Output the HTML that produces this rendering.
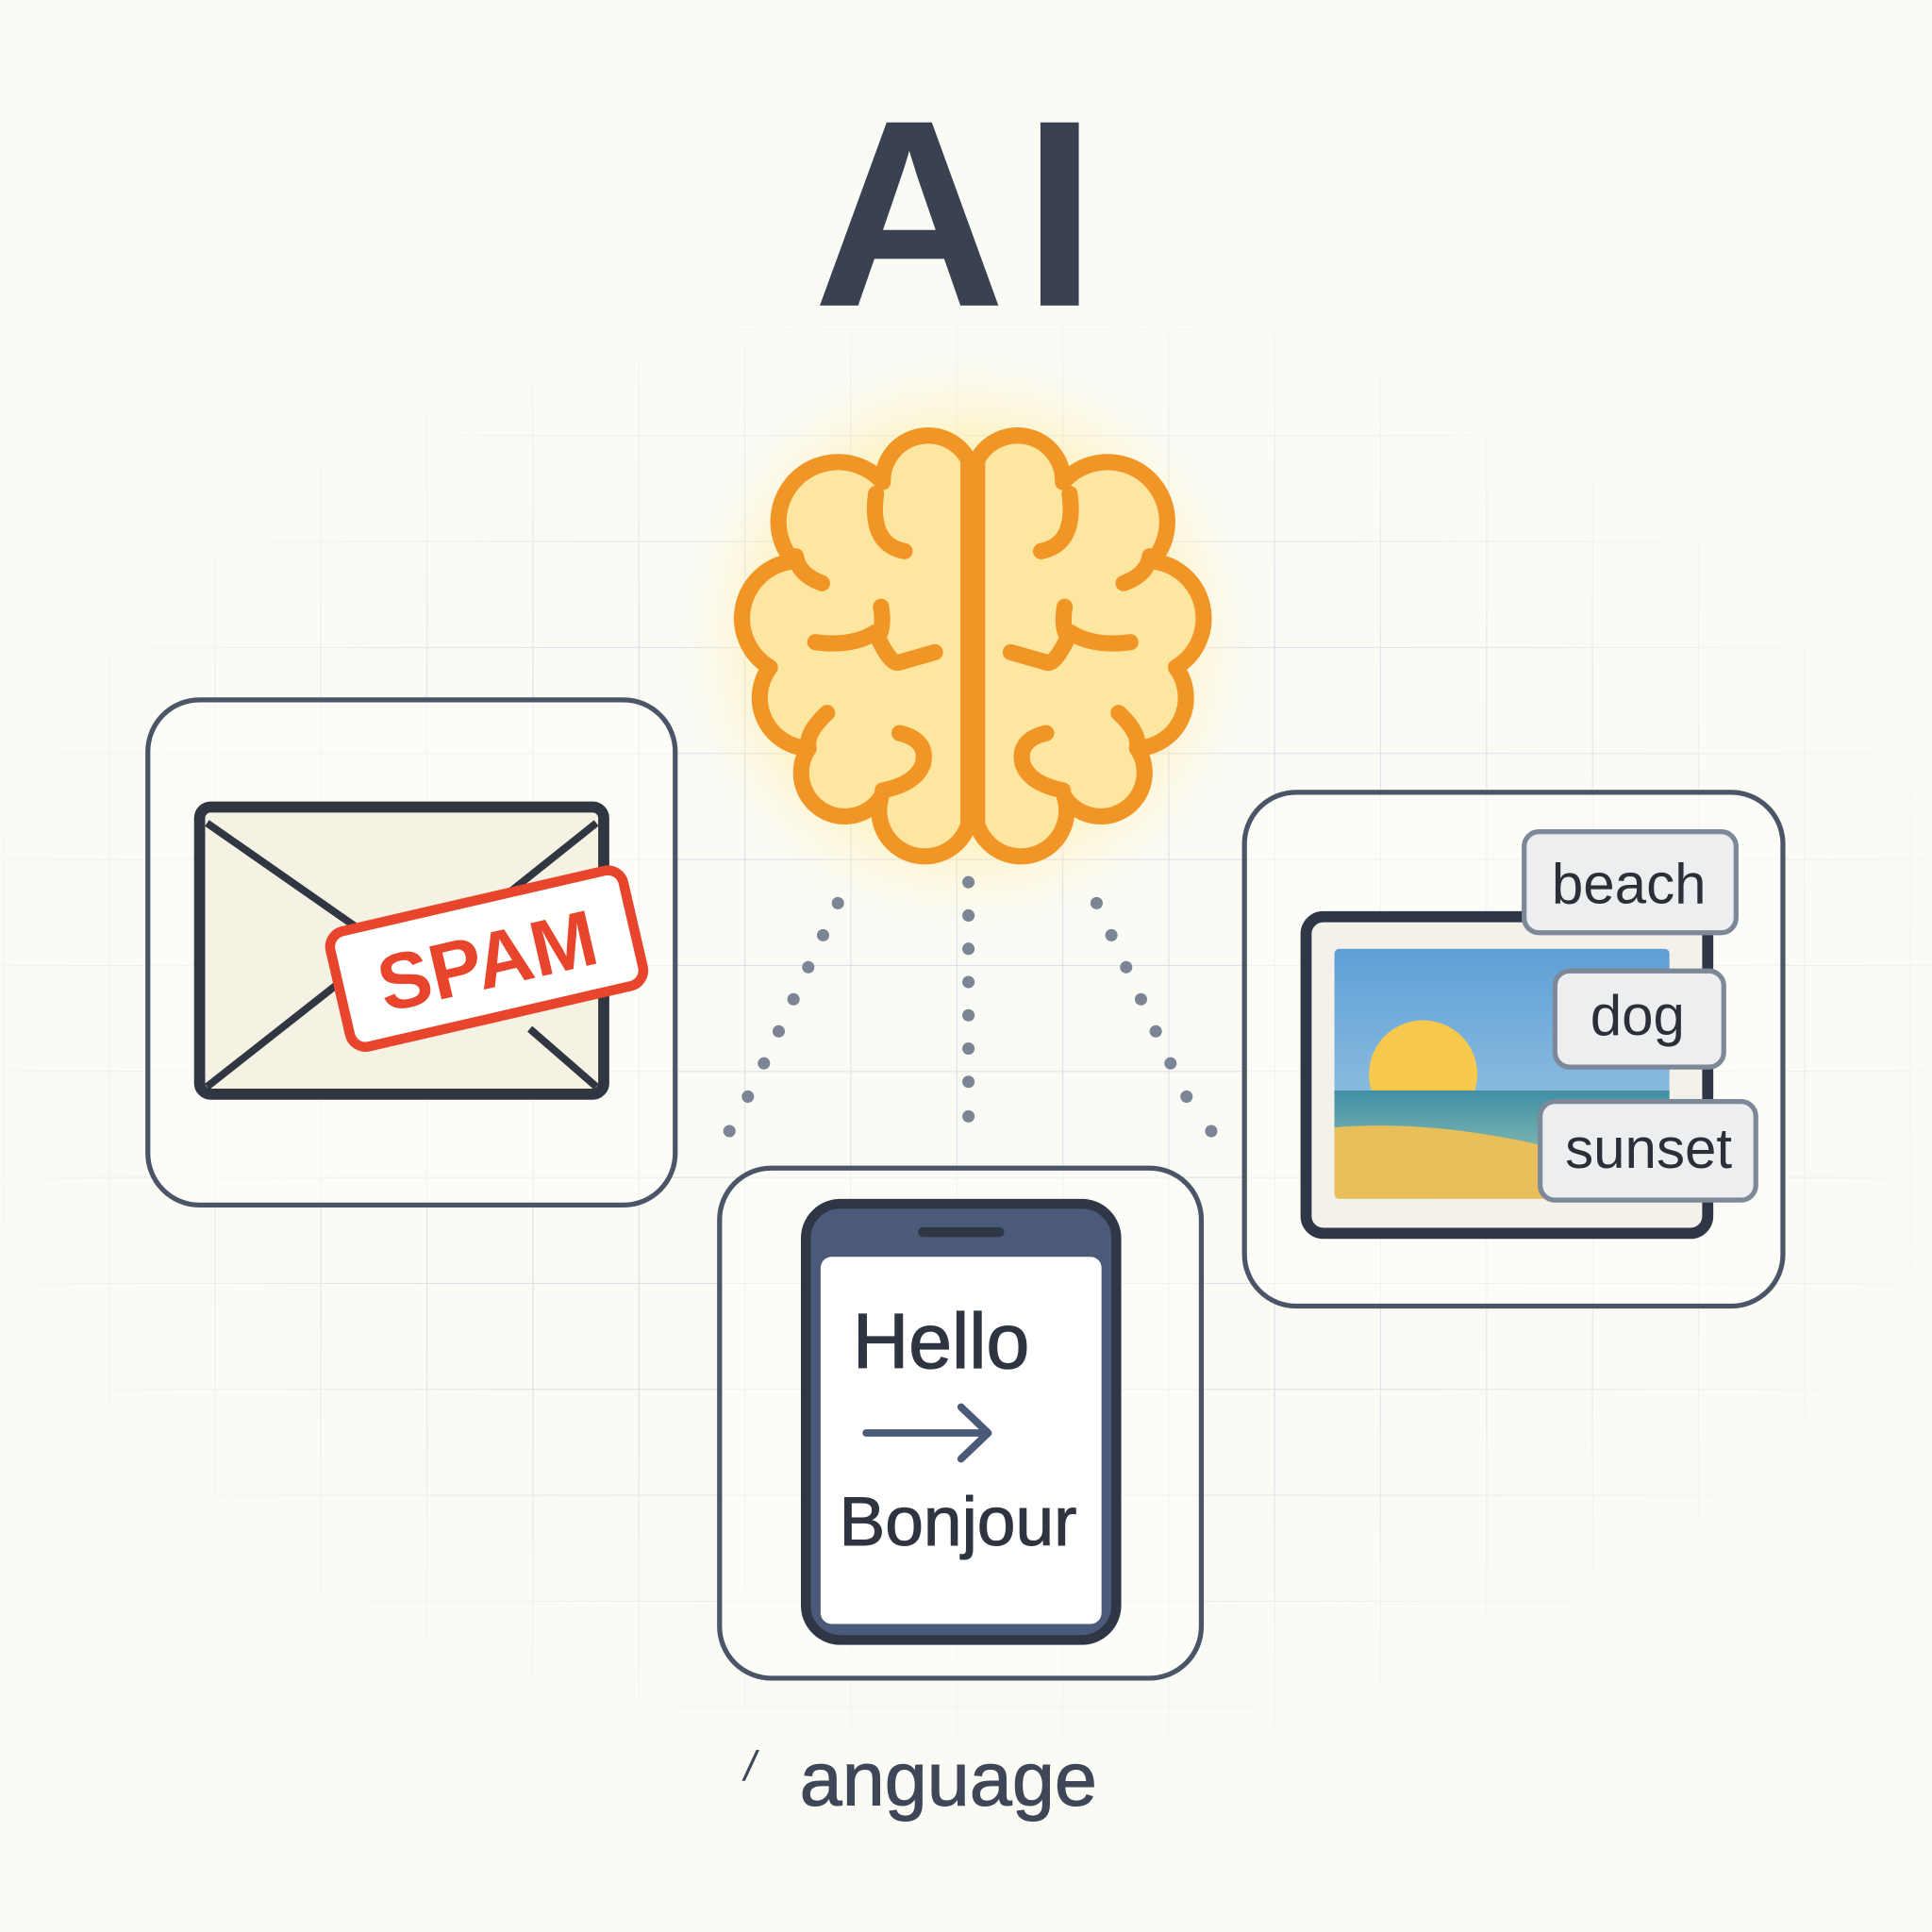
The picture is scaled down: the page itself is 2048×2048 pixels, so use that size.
<!DOCTYPE html>
<html><head><meta charset="utf-8"><style>
html,body{margin:0;padding:0;background:#fbfbf6;}
svg{display:block;}
text{font-family:"Liberation Sans",sans-serif;}
</style></head><body>
<svg width="2048" height="2048" viewBox="0 0 2048 2048" xmlns="http://www.w3.org/2000/svg">
<defs>
<pattern id="grid" x="3" y="10" width="86" height="86" patternUnits="userSpaceOnUse">
<path d="M86 0 V86 M0 86 H86" stroke="#dde1e7" stroke-width="1.8" fill="none"/>
</pattern>
<radialGradient id="fade" cx="0.5" cy="0.5" r="0.55">
<stop offset="0.6" stop-color="#fff" stop-opacity="1"/>
<stop offset="1" stop-color="#fff" stop-opacity="0"/>
</radialGradient>
<mask id="gm"><rect x="0" y="260" width="1568" height="1150" fill="url(#fade)"/></mask>
<radialGradient id="glow" cx="0.5" cy="0.5" r="0.5">
<stop offset="0" stop-color="#ffd84a" stop-opacity="0.9"/>
<stop offset="0.55" stop-color="#ffe57a" stop-opacity="0.7"/>
<stop offset="1" stop-color="#fff6c8" stop-opacity="0"/>
</radialGradient>
<linearGradient id="sky" x1="0" y1="0" x2="0" y2="1">
<stop offset="0" stop-color="#5e9fd6"/><stop offset="1" stop-color="#a9cfe6"/>
</linearGradient>
<linearGradient id="sea" x1="0" y1="0" x2="0" y2="1">
<stop offset="0" stop-color="#3f8fa6"/><stop offset="1" stop-color="#7fb6b0"/>
</linearGradient>
<clipPath id="imgclip"><rect x="1083" y="770" width="272" height="203" rx="4"/></clipPath>
</defs>

<g transform="scale(1.30612)">
<rect x="0" y="260" width="1568" height="1150" fill="url(#grid)" mask="url(#gm)"/>
<text x="782" y="248" font-size="216" font-weight="bold" fill="#3a4252" text-anchor="middle" letter-spacing="14">AI</text>
<circle cx="785" cy="520" r="235" fill="url(#glow)"/>
</g>

<g transform="translate(750,420) scale(0.35714)" fill="none" stroke="#f29527" stroke-width="48" stroke-linecap="round" stroke-linejoin="round">
<g id="half">
<path d="M775,190 A135,135 0 0 0 520,255 A145,145 0 0 0 255,490 A170,170 0 0 0 185,805 A150,150 0 0 0 300,1045 A125,125 0 0 0 515,1190 A130,130 0 0 0 775,1270 Z" fill="#fde7a0"/>
<path d="M585,460 Q480,440 500,290"/>
<path d="M340,555 Q270,530 262,475"/>
<path d="M320,730 Q430,745 500,700"/>
<path d="M515,625 Q525,690 505,715 Q545,800 570,790 L675,760"/>
<path d="M355,940 Q290,1000 300,1045"/>
<path d="M570,1000 Q655,1020 640,1090 Q620,1150 520,1170"/>
</g>
<use href="#half" transform="translate(1575,0) scale(-1,1)"/>
<path d="M775,190 V1270 M800,190 V1270"/>
</g>

<g transform="scale(1.30612)">
<g fill="#7c8596">
<circle cx="680" cy="733" r="5"/><circle cx="668" cy="759" r="5"/><circle cx="656" cy="785" r="5"/><circle cx="644" cy="811" r="5"/><circle cx="632" cy="837" r="5"/><circle cx="620" cy="863" r="5"/><circle cx="607" cy="890" r="5"/><circle cx="592" cy="918" r="5"/>
<circle cx="786" cy="716" r="5"/><circle cx="786" cy="743" r="5"/><circle cx="786" cy="770" r="5"/><circle cx="786" cy="797" r="5"/><circle cx="786" cy="824" r="5"/><circle cx="786" cy="851" r="5"/><circle cx="786" cy="878" r="5"/><circle cx="786" cy="906" r="5"/>
<circle cx="890" cy="733" r="5"/><circle cx="902" cy="759" r="5"/><circle cx="914" cy="785" r="5"/><circle cx="926" cy="811" r="5"/><circle cx="938" cy="837" r="5"/><circle cx="950" cy="863" r="5"/><circle cx="963" cy="890" r="5"/><circle cx="983" cy="918" r="5"/>
</g>

<rect x="120" y="568" width="428" height="410" rx="42" fill="#fdfdfa" fill-opacity="0.6" stroke="#4b5567" stroke-width="4"/>
<rect x="162" y="655" width="328" height="233" rx="9" fill="#f6f2e3" stroke="#303743" stroke-width="9"/>
<path d="M168,668 L300,760 M484,668 L400,735 M168,882 L285,790 M484,882 L430,835" stroke="#303743" stroke-width="6" fill="none"/>
<g transform="translate(395,778) rotate(-13)">
<rect x="-122" y="-48" width="244" height="96" rx="13" fill="#fff" stroke="#e8452c" stroke-width="8"/>
<text x="0" y="24" font-size="64" font-weight="bold" fill="#e8452c" text-anchor="middle">SPAM</text>
</g>

<rect x="584" y="948" width="391" height="414" rx="42" fill="#fdfdfa" fill-opacity="0.6" stroke="#4b5567" stroke-width="4"/>
<rect x="654" y="977" width="252" height="354" rx="28" fill="#4a5a78" stroke="#2f3747" stroke-width="8"/>
<rect x="666" y="1020" width="228" height="298" rx="9" fill="#fff"/>
<rect x="745" y="996" width="70" height="8" rx="4" fill="#2f3747"/>
<text x="692" y="1110" font-size="63" fill="#2e3440" stroke="#2e3440" stroke-width="1">Hello</text>
<path d="M703,1163 H800 M780,1142 L802,1163 L780,1184" stroke="#4a5a78" stroke-width="6" fill="none" stroke-linecap="round" stroke-linejoin="round"/>
<text x="681" y="1254" font-size="56" fill="#2e3440" stroke="#2e3440" stroke-width="0.8">Bonjour</text>

<rect x="1010" y="643" width="437" height="417" rx="42" fill="#fdfdfa" fill-opacity="0.6" stroke="#4b5567" stroke-width="4"/>
<rect x="1060" y="744" width="326" height="257" rx="14" fill="#f3f1ea" stroke="#2f3747" stroke-width="9"/>
<g clip-path="url(#imgclip)">
<rect x="1083" y="770" width="272" height="203" fill="url(#sky)"/>
<circle cx="1155" cy="872" r="44" fill="#f6c94c"/>
<rect x="1083" y="885" width="272" height="50" fill="url(#sea)"/>
<path d="M1083,915 Q1200,905 1355,960 V973 H1083 Z" fill="#e9bf5a"/>
</g>
<g stroke="#7d8898" stroke-width="4" fill="#edeef0">
<rect x="1237" y="675" width="172" height="82" rx="12"/>
<rect x="1262" y="788" width="137" height="78" rx="12"/>
<rect x="1250" y="894" width="175" height="80" rx="12"/>
</g>
<g font-size="46" fill="#2a2f38" text-anchor="middle">
<text x="1322" y="733">beach</text>
<text x="1329" y="840">dog</text>
<text x="1338" y="948">sunset</text>
</g>

<text x="604" y="1445" font-size="34" fill="#3e4658" font-style="italic">/</text>
<text x="649" y="1465" font-size="62" fill="#3e4658" stroke="#3e4658" stroke-width="0.8">anguage</text>
</g>
</svg>
</body></html>
